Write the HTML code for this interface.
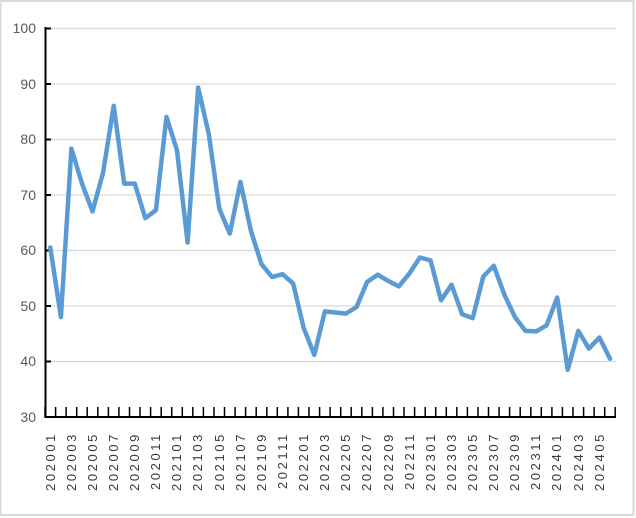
<!DOCTYPE html>
<html><head><meta charset="utf-8"><style>
html,body{margin:0;padding:0;background:#fff;}
svg{display:block;}
</style></head><body>
<svg width="636" height="518" viewBox="0 0 636 518" xmlns="http://www.w3.org/2000/svg">
<rect x="0" y="0" width="636" height="518" fill="#fff"/>
<rect x="0.5" y="1" width="633" height="514" fill="none" stroke="#d9d9d9" stroke-width="2"/>
<g stroke="#d9d9d9" stroke-width="1.2">
<line x1="45" y1="28.5" x2="616" y2="28.5"/>
<line x1="45" y1="84" x2="616" y2="84"/>
<line x1="45" y1="139.5" x2="616" y2="139.5"/>
<line x1="45" y1="195" x2="616" y2="195"/>
<line x1="45" y1="250.5" x2="616" y2="250.5"/>
<line x1="45" y1="306" x2="616" y2="306"/>
<line x1="45" y1="361.5" x2="616" y2="361.5"/>
</g>
<g font-family="Liberation Sans, sans-serif" font-size="14" fill="#595959" text-anchor="end">
<text x="36" y="33">100</text>
<text x="36" y="89">90</text>
<text x="36" y="144">80</text>
<text x="36" y="200">70</text>
<text x="36" y="255">60</text>
<text x="36" y="311">50</text>
<text x="36" y="366">40</text>
<text x="36" y="422">30</text>
</g>
<g stroke="#000" stroke-width="2">
<line x1="45.5" y1="27" x2="45.5" y2="418"/>
<line x1="45" y1="417" x2="616" y2="417"/>
<line x1="45" y1="28.5" x2="51" y2="28.5"/>
<line x1="45" y1="84" x2="51" y2="84"/>
<line x1="45" y1="139.5" x2="51" y2="139.5"/>
<line x1="45" y1="195" x2="51" y2="195"/>
<line x1="45" y1="250.5" x2="51" y2="250.5"/>
<line x1="45" y1="306" x2="51" y2="306"/>
<line x1="45" y1="361.5" x2="51" y2="361.5"/>
</g>
<polyline fill="none" stroke="#5b9bd5" stroke-width="4.5" stroke-linejoin="round" stroke-linecap="round" points="50.3,247.5 60.9,317.0 71.4,148.6 82.0,183.6 92.5,211.4 103.1,172.5 113.7,105.8 124.2,183.6 134.8,183.6 145.3,218.1 155.9,210.3 166.5,116.9 177.0,150.3 187.6,242.5 198.1,87.5 208.7,133.6 219.3,208.6 229.8,233.6 240.4,181.9 250.9,230.8 261.5,264.2 272.1,277.0 282.6,274.2 293.2,283.6 303.7,328.1 314.3,354.8 324.9,311.4 335.4,312.5 346.0,313.6 356.5,307.0 367.1,282.0 377.7,274.7 388.2,280.9 398.8,286.4 409.3,273.6 419.9,257.5 430.5,260.3 441.0,300.3 451.6,284.7 462.1,314.2 472.7,318.1 483.3,276.4 493.8,265.8 504.4,294.7 514.9,317.0 525.5,330.9 536.1,331.4 546.6,325.3 557.2,297.5 567.7,369.8 578.3,330.9 588.9,348.6 599.4,337.5 610.0,358.7"/>
<g stroke="#000" stroke-width="1.5">
<line x1="45" y1="407" x2="45" y2="417"/><line x1="55.6" y1="407" x2="55.6" y2="417"/><line x1="66.1" y1="407" x2="66.1" y2="417"/><line x1="76.7" y1="407" x2="76.7" y2="417"/><line x1="87.2" y1="407" x2="87.2" y2="417"/><line x1="97.8" y1="407" x2="97.8" y2="417"/><line x1="108.4" y1="407" x2="108.4" y2="417"/><line x1="118.9" y1="407" x2="118.9" y2="417"/><line x1="129.5" y1="407" x2="129.5" y2="417"/><line x1="140.0" y1="407" x2="140.0" y2="417"/><line x1="150.6" y1="407" x2="150.6" y2="417"/><line x1="161.2" y1="407" x2="161.2" y2="417"/><line x1="171.7" y1="407" x2="171.7" y2="417"/><line x1="182.3" y1="407" x2="182.3" y2="417"/><line x1="192.8" y1="407" x2="192.8" y2="417"/><line x1="203.4" y1="407" x2="203.4" y2="417"/><line x1="214.0" y1="407" x2="214.0" y2="417"/><line x1="224.5" y1="407" x2="224.5" y2="417"/><line x1="235.1" y1="407" x2="235.1" y2="417"/><line x1="245.6" y1="407" x2="245.6" y2="417"/><line x1="256.2" y1="407" x2="256.2" y2="417"/><line x1="266.8" y1="407" x2="266.8" y2="417"/><line x1="277.3" y1="407" x2="277.3" y2="417"/><line x1="287.9" y1="407" x2="287.9" y2="417"/><line x1="298.4" y1="407" x2="298.4" y2="417"/><line x1="309.0" y1="407" x2="309.0" y2="417"/><line x1="319.6" y1="407" x2="319.6" y2="417"/><line x1="330.1" y1="407" x2="330.1" y2="417"/><line x1="340.7" y1="407" x2="340.7" y2="417"/><line x1="351.2" y1="407" x2="351.2" y2="417"/><line x1="361.8" y1="407" x2="361.8" y2="417"/><line x1="372.4" y1="407" x2="372.4" y2="417"/><line x1="382.9" y1="407" x2="382.9" y2="417"/><line x1="393.5" y1="407" x2="393.5" y2="417"/><line x1="404.0" y1="407" x2="404.0" y2="417"/><line x1="414.6" y1="407" x2="414.6" y2="417"/><line x1="425.2" y1="407" x2="425.2" y2="417"/><line x1="435.7" y1="407" x2="435.7" y2="417"/><line x1="446.3" y1="407" x2="446.3" y2="417"/><line x1="456.8" y1="407" x2="456.8" y2="417"/><line x1="467.4" y1="407" x2="467.4" y2="417"/><line x1="478.0" y1="407" x2="478.0" y2="417"/><line x1="488.5" y1="407" x2="488.5" y2="417"/><line x1="499.1" y1="407" x2="499.1" y2="417"/><line x1="509.6" y1="407" x2="509.6" y2="417"/><line x1="520.2" y1="407" x2="520.2" y2="417"/><line x1="530.8" y1="407" x2="530.8" y2="417"/><line x1="541.3" y1="407" x2="541.3" y2="417"/><line x1="551.9" y1="407" x2="551.9" y2="417"/><line x1="562.4" y1="407" x2="562.4" y2="417"/><line x1="573.0" y1="407" x2="573.0" y2="417"/><line x1="583.6" y1="407" x2="583.6" y2="417"/><line x1="594.1" y1="407" x2="594.1" y2="417"/><line x1="604.7" y1="407" x2="604.7" y2="417"/><line x1="615.2" y1="407" x2="615.2" y2="417"/>
</g>
<g font-family="Liberation Sans, sans-serif" font-size="13" fill="#3a3a3a" text-anchor="end" letter-spacing="2.6">
<text transform="translate(55,432) rotate(-90)">202001</text>
<text transform="translate(76,432) rotate(-90)">202003</text>
<text transform="translate(97,432) rotate(-90)">202005</text>
<text transform="translate(118,432) rotate(-90)">202007</text>
<text transform="translate(139,432) rotate(-90)">202009</text>
<text transform="translate(160,432) rotate(-90)">202011</text>
<text transform="translate(181,432) rotate(-90)">202101</text>
<text transform="translate(202,432) rotate(-90)">202103</text>
<text transform="translate(224,432) rotate(-90)">202105</text>
<text transform="translate(245,432) rotate(-90)">202107</text>
<text transform="translate(266,432) rotate(-90)">202109</text>
<text transform="translate(287,432) rotate(-90)">202111</text>
<text transform="translate(308,432) rotate(-90)">202201</text>
<text transform="translate(329,432) rotate(-90)">202203</text>
<text transform="translate(350,432) rotate(-90)">202205</text>
<text transform="translate(371,432) rotate(-90)">202207</text>
<text transform="translate(393,432) rotate(-90)">202209</text>
<text transform="translate(414,432) rotate(-90)">202211</text>
<text transform="translate(435,432) rotate(-90)">202301</text>
<text transform="translate(456,432) rotate(-90)">202303</text>
<text transform="translate(477,432) rotate(-90)">202305</text>
<text transform="translate(498,432) rotate(-90)">202307</text>
<text transform="translate(519,432) rotate(-90)">202309</text>
<text transform="translate(540,432) rotate(-90)">202311</text>
<text transform="translate(561,432) rotate(-90)">202401</text>
<text transform="translate(583,432) rotate(-90)">202403</text>
<text transform="translate(604,432) rotate(-90)">202405</text>
</g>
</svg>
</body></html>
